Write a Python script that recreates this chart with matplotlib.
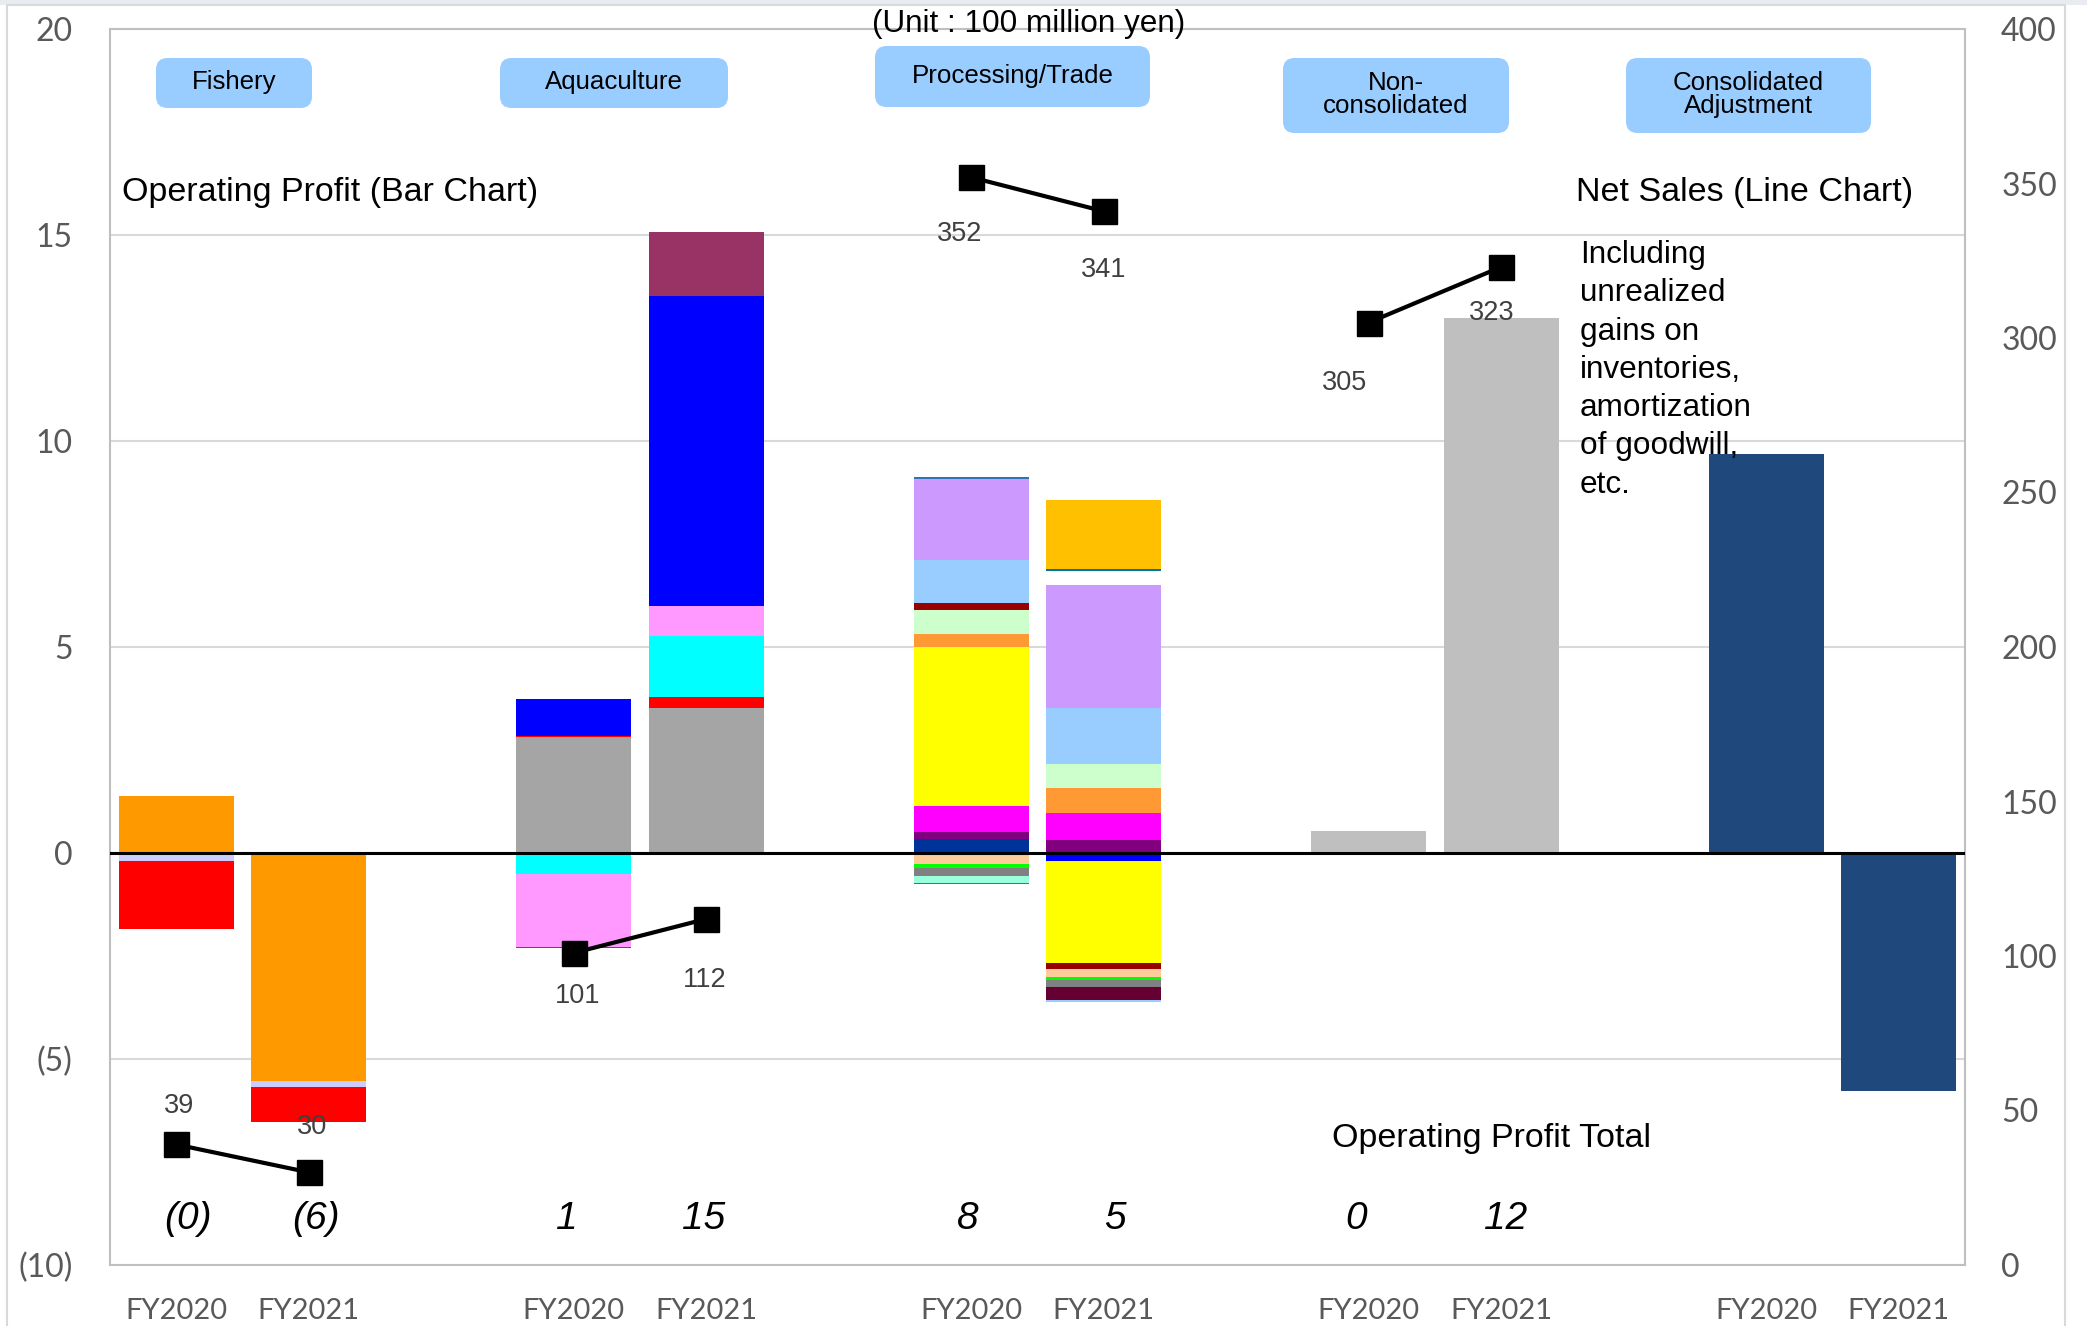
import matplotlib.pyplot as plt
from matplotlib.patches import FancyBboxPatch, Rectangle
from matplotlib.ticker import FuncFormatter

plt.rcParams['font.family'] = ['Liberation Sans', 'DejaVu Sans']

W, H = 2087, 1326

segments = ["Fishery", "Aquaculture", "Processing/Trade",
            "Non-\nconsolidated", "Consolidated\nAdjustment"]
years = ["FY2020", "FY2021"]

# operating profit pieces of each bar; positives stack up from zero, negatives down
fishery_fy2020 = [1.38, -0.20, -1.65]
fishery_fy2021 = [-5.53, -0.16, -0.83]
fishery_colors = ["#FF9900", "#CCCCFF", "#FF0000"]

aqua_fy2020 = [2.81, 0.02, -0.51, -1.78, 0.91, -0.02]
aqua_fy2021 = [3.51, 0.27, 1.48, 0.73, 7.52, 1.56]
aqua_colors = ["#A5A5A5", "#FF0000", "#00FFFF", "#FF99FF", "#0000FF", "#993366"]

proc_fy2020 = [0.34, 0.16, 0.65, 3.86, 0.31, 0.57, 0.18, 1.03, 1.98, 0.04,
               -0.26, -0.10, -0.19, -0.18, -0.03]
proc_fy2020_colors = ["#003399", "#800080", "#FF00FF", "#FFFF00", "#FF9933",
                      "#CCFFCC", "#990000", "#99CCFF", "#CC99FF", "#2E75B6",
                      "#FFCC99", "#00FF00", "#808080", "#99FFDD", "#3366FF"]
proc_fy2021 = [0.32, 0.65, 0.60, 0.59, 1.37, 2.98, 0.34, 0.04, 1.69,
               -0.19, -2.49, -0.14, -0.18, -0.08, -0.17, -0.32, -0.05]
proc_fy2021_colors = ["#800080", "#FF00FF", "#FF9933", "#CCFFCC", "#99CCFF",
                      "#CC99FF", "none", "#0070C0", "#FFC000",
                      "#0000FF", "#FFFF00", "#990000", "#FFCC99", "#00FF00",
                      "#808080", "#660033", "#99CCFF"]

nonconsol = [0.54, 12.98]
consol_adj = [9.68, -5.77]

net_sales_fy2020 = [39, 101, 352, 305]
net_sales_fy2021 = [30, 112, 341, 323]

op_total = [-0.4, -6.4, 1.4, 15.1, 8.4, 5.0, 0.4, 12.4]

bars = [
    (fishery_fy2020, fishery_colors), (fishery_fy2021, fishery_colors),
    (aqua_fy2020, aqua_colors), (aqua_fy2021, aqua_colors),
    (proc_fy2020, proc_fy2020_colors), (proc_fy2021, proc_fy2021_colors),
    ([nonconsol[0]], ["#BFBFBF"]), ([nonconsol[1]], ["#BFBFBF"]),
    ([consol_adj[0]], ["#1F497D"]), ([consol_adj[1]], ["#1F497D"]),
]

# two bars per segment, one empty slot between segments
xpos = [3 * g + j for g in range(len(segments)) for j in range(len(years))]
BAR_W = 0.87


def stack(ax, x, values, colors):
    up, down = 0.0, 0.0
    for v, c in zip(values, colors):
        if v >= 0:
            ax.bar(x, v, bottom=up, width=BAR_W, color=c, linewidth=0, zorder=2)
            up += v
        else:
            ax.bar(x, v, bottom=down, width=BAR_W, color=c, linewidth=0, zorder=2)
            down += v


def fxy(px, py):
    return px / W, 1 - py / H


fig = plt.figure(figsize=(W / 100, H / 100), dpi=100)

# faint page border
fig.patches.append(Rectangle((0, 1 - 5 / H), 1, 5 / H, transform=fig.transFigure,
                             color="#E8EBF0", lw=0, zorder=0))
fig.patches.append(Rectangle((7 / W, -0.01), (2065 - 7) / W, 1.01 - 5 / H,
                             transform=fig.transFigure, fill=False,
                             ec="#D9D9D9", lw=1.5, zorder=0))

ax = fig.add_axes([110 / W, (H - 1265) / H, 1855 / W, 1236 / H])
for x, (vals, cols) in zip(xpos, bars):
    stack(ax, x, vals, cols)

ax.set_xlim(-0.5, 13.5)
ax.set_ylim(-10, 20)
ax.set_yticks(range(-10, 21, 5))
ax.yaxis.set_major_formatter(FuncFormatter(
    lambda v, p: f"({abs(v):.0f})" if v < 0 else f"{v:.0f}"))
ax.yaxis.grid(True, color="#D9D9D9", lw=1.5, zorder=0)
ax.set_axisbelow(True)
ax.axhline(0, color="black", lw=2.2, zorder=4)
ax.set_xticks(xpos)
ax.set_xticklabels(years * len(segments))
ax.tick_params(axis="y", length=0, pad=27, labelsize=23, labelcolor="#595959")
ax.tick_params(axis="x", length=0, pad=24, labelsize=21, labelcolor="#595959")
for lab in ax.get_xticklabels() + ax.get_yticklabels():
    lab.set_fontfamily("Lato")
for s in ax.spines.values():
    s.set_color("#BFBFBF")
    s.set_linewidth(1.5)

# net sales on the right-hand scale
ax2 = ax.twinx()
ax2.set_ylim(0, 400)
ax2.set_yticks(range(0, 401, 50))
ax2.tick_params(axis="y", length=0, pad=26, labelsize=23, labelcolor="#595959")
for lab in ax2.get_yticklabels():
    lab.set_fontfamily("Lato")
for s in ax2.spines.values():
    s.set_visible(False)

label_offsets = [((3, 38), (3, 45)), ((4, -43), (-2, -61)),
                 ((-12, -57), (0, -59)), ((-24, -60), (-10, -46))]
for g in range(len(net_sales_fy2020)):
    xs = [3 * g, 3 * g + 1]
    ys = [net_sales_fy2020[g], net_sales_fy2021[g]]
    ax2.plot(xs, ys, color="black", lw=3, marker="s", ms=18, zorder=5)
    for x, y, off in zip(xs, ys, label_offsets[g]):
        ax2.annotate(f"{y}", (x, y), xytext=off, textcoords="offset pixels",
                     ha="center", va="center", fontsize=19.5, color="#404040")

# operating profit totals under each bar
total_nudge = [12, 7, -7, -3, -3, 11, -13, 4]
for x, v, dx in zip(xpos, op_total, total_nudge):
    txt = f"({abs(v):.0f})" if v < 0 else f"{v:.0f}"
    ax.annotate(txt, (x, -8.8), xytext=(dx, -3), textcoords="offset pixels",
                ha="center", va="center", fontsize=28, style="italic",
                zorder=6)

# segment name boxes
box_px = [(156, 58, 312, 108), (500, 58, 728, 108), (875, 46, 1150, 107),
          (1283, 58, 1509, 133), (1626, 58, 1871, 133)]
for name, (x0, y0, x1, y1) in zip(segments, box_px):
    bx, by = fxy(x0, y1)
    bw, bh = (x1 - x0) / W, (y1 - y0) / H
    fig.patches.append(FancyBboxPatch(
        (bx, by), bw, bh, boxstyle="round,pad=0,rounding_size=0.0055",
        mutation_aspect=W / H, transform=fig.transFigure,
        fc="#99CCFF", ec="none", zorder=3))
    cx, cy = fxy((x0 + x1) / 2, (y0 + y1) / 2 - 1)
    fig.text(cx, cy, name, ha="center", va="center", fontsize=18.6,
             linespacing=0.92, zorder=4)

fig.text(*fxy(1029, 24), "(Unit : 100 million yen)", ha="center", va="center",
         fontsize=22.7)
fig.text(*fxy(122, 192), "Operating Profit (Bar Chart)", ha="left",
         va="center", fontsize=24.5)
fig.text(*fxy(1576, 192), "Net Sales (Line Chart)", ha="left", va="center",
         fontsize=24.5)
fig.text(*fxy(1580, 240),
         "Including\nunrealized\ngains on\ninventories,\namortization\nof goodwill,\netc.",
         ha="left", va="top", fontsize=22.7, linespacing=1.36, zorder=5)
fig.text(*fxy(1332, 1138), "Operating Profit Total", ha="left", va="center",
         fontsize=24.5)

fig.savefig("out.png", dpi=100)
